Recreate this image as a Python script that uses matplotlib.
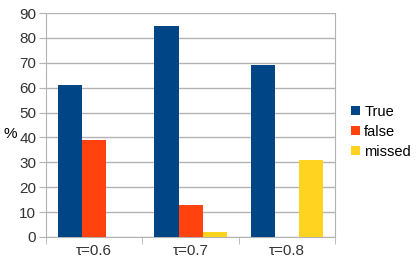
import numpy as np
import matplotlib
matplotlib.use('Agg')
from matplotlib import pyplot as plt

plt.rcParams['font.family'] = ['Liberation Sans', 'DejaVu Sans']

categories = ['τ=0.6', 'τ=0.7', 'τ=0.8']
true_vals = [61, 85, 69]
false_vals = [39, 13, 0]
missed_vals = [0, 2, 31]
series = [('True', true_vals, '#004586'),
          ('false', false_vals, '#ff420e'),
          ('missed', missed_vals, '#ffd320')]

fig = plt.figure(figsize=(4.2, 2.68), dpi=100)
ax = fig.add_axes([0.1095, 0.1157, 0.6885, 0.8355])

x = np.arange(len(categories))
w = 0.25
for i, (name, vals, col) in enumerate(series):
    ax.bar(x + (i - 1) * w, vals, w, color=col, label=name, zorder=3)

ax.set_xlim(-0.5, len(categories) - 0.5)
ax.set_ylim(0, 90)
ax.set_yticks(range(0, 91, 10))
ax.yaxis.grid(True, color='#b3b3b3', linewidth=1, zorder=0)

ax.set_xticks(x)
ax.set_xticklabels(categories)
ax.set_xticks(np.arange(-0.5, len(categories)), minor=True)
ax.tick_params(axis='x', which='major', length=0, labelsize=11, pad=5, colors='#333333')
ax.tick_params(axis='x', which='minor', length=5, color='#b3b3b3')
ax.tick_params(axis='y', length=5, color='#b3b3b3', labelsize=11, colors='#333333', pad=2)
for s in ['left', 'bottom', 'right']:
    ax.spines[s].set_color('#b3b3b3')
ax.spines['top'].set_visible(False)

ax.set_ylabel('%', rotation=0, fontsize=11, va='center', ha='center')
ax.yaxis.set_label_coords(-0.125, 0.46)

ax.legend(loc='center left', bbox_to_anchor=(1.035, 0.47), frameon=False,
          fontsize=10.5, handlelength=0.6, handleheight=0.6, handletextpad=0.3,
          labelspacing=0.4, borderaxespad=0)

fig.savefig('out.png', dpi=100)
